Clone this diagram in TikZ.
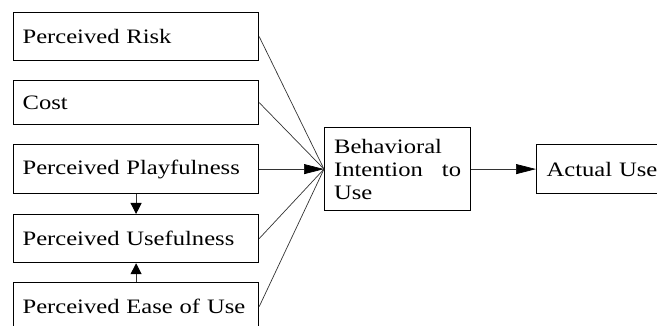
\documentclass[tikz,border=0pt]{standalone}
\usepackage{fontspec}
\setmainfont{Liberation Serif}[FakeStretch=1.2]
\usetikzlibrary{arrows.meta}
\tikzset{
  box/.style={draw=black, line width=1.2pt, anchor=north west, inner sep=0pt, align=left},
  conn/.style={draw=black!80, line width=0.7pt},
  arr/.style={conn, -{Triangle[length=20pt,width=10pt,color=black]}},
  varr/.style={conn, line width=1pt, -{Triangle[length=11pt,width=11pt,color=black]}},
}
\begin{document}
\begin{tikzpicture}[x=1pt,y=-1pt, font=\fontsize{20.5}{23}\selectfont]
\useasboundingbox (0,0) rectangle (657,326);
\clip (0,0) rectangle (657,326);
\node[box, minimum width=245pt, minimum height=48pt, text width=227pt] (risk) at (13,12) {Perceived Risk};
\node[box, minimum width=245pt, minimum height=44pt, text width=227pt] (cost) at (13,80) {Cost};
\node[box, minimum width=245pt, minimum height=49pt, text width=227pt] (play) at (13,144) {Perceived Playfulness};
\node[box, minimum width=245pt, minimum height=48pt, text width=227pt] (use) at (13,214) {Perceived Usefulness};
\node[box, minimum width=245pt, minimum height=48pt, text width=227pt] (ease) at (13,282) {Perceived Ease of Use};
\node[box, minimum width=146pt, minimum height=83pt, text width=127pt] (bi) at (324,127) {Behavioral\\Intention\hfill to\\Use};
\node[box, minimum width=140pt, minimum height=49pt, text width=120pt] (au) at (536,144) {Actual Use};
\coordinate (in) at (bi.west);
\draw[conn] (risk.east) -- (in);
\draw[conn] (cost.east) -- (in);
\draw[conn] (use.east) -- (in);
\draw[conn] (ease.east) -- (in);
\draw[arr] (play.east) -- (in);
\draw[arr] (bi.east) -- (au.west);
\draw[varr] (play.south) -- (use.north);
\draw[varr] (ease.north) -- (use.south);
\end{tikzpicture}
\end{document}
